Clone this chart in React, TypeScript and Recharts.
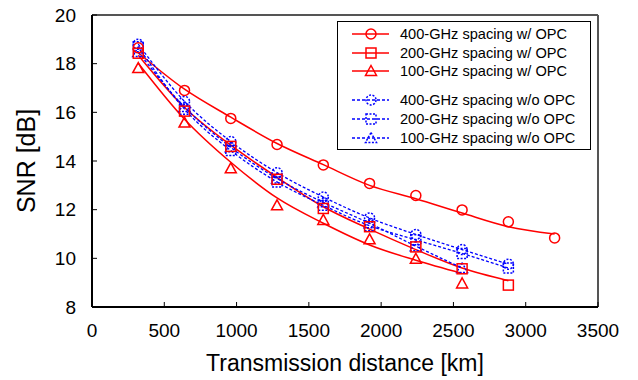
import React from "react";
import { ComposedChart, Line, XAxis, YAxis, ReferenceLine } from "recharts";

const distances = [320, 640, 960, 1280, 1600, 1920, 2240, 2560, 2880, 3200];
const xTicks = [0, 500, 1000, 1500, 2000, 2500, 3000, 3500];
const yTicks = [8, 10, 12, 14, 16, 18, 20];

// measured points
const opc400 = [18.65, 16.9, 15.75, 14.68, 13.84, 13.08, 12.58, 11.99, 11.5, 10.84];
const opc200 = [18.43, 16.05, 14.6, 13.25, 12.05, 11.3, 10.47, 9.57, 8.9];
const opc100 = [17.82, 15.58, 13.7, 12.18, 11.58, 10.78, 9.98, 8.97];
const noOpc400 = [18.8, 16.45, 14.8, 13.52, 12.52, 11.66, 10.98, 10.36, 9.76];
const noOpc200 = [18.7, 16.13, 14.43, 13.14, 12.18, 11.34, 10.76, 10.2, 9.6];
const noOpc100 = [18.48, 16.22, 14.56, 13.28, 12.3, 11.44, 10.5, 9.6];

// fitted trend curves of the w/ OPC series
const fit400 = [18.45, 16.95, 15.8, 14.72, 13.85, 13.0, 12.45, 11.86, 11.3, 11.0];
const fit200 = [18.35, 16.2, 14.65, 13.33, 12.12, 11.2, 10.36, 9.6, 9.08];
const fit100 = [18.02, 15.72, 13.95, 12.48, 11.44, 10.55, 9.92, 9.38];

const RED = "#ff0000";
const BLUE = "#0000ff";
const FONT = "'Liberation Sans', Arial, sans-serif";

const toPoints = (values: number[]) => values.map((y, i) => ({ x: distances[i], y }));

type Shape = "circle" | "square" | "triangle";

function Marker({ cx, cy, shape, color, dashed }: { cx: number; cy: number; shape: Shape; color: string; dashed?: boolean }) {
  const common = {
    fill: "none",
    stroke: color,
    strokeWidth: 1.5,
    strokeDasharray: dashed ? "2 1.5" : undefined,
  };
  if (shape === "circle") return <circle cx={cx} cy={cy} r={5} {...common} />;
  if (shape === "square") return <rect x={cx - 5} y={cy - 5} width={10} height={10} {...common} />;
  return <path d={`M${cx},${cy - 5.5} L${cx + 5.5},${cy + 4.5} L${cx - 5.5},${cy + 4.5} Z`} {...common} />;
}

const makeDot = (shape: Shape, color: string, dashed?: boolean) => (props: any) => {
  const { cx, cy, index } = props;
  return <Marker key={`${shape}-${color}-${index}`} cx={cx} cy={cy} shape={shape} color={color} dashed={dashed} />;
};

const legendItems: { label: string; shape: Shape; color: string; dashed: boolean }[] = [
  { label: "400-GHz spacing w/ OPC", shape: "circle", color: RED, dashed: false },
  { label: "200-GHz spacing w/ OPC", shape: "square", color: RED, dashed: false },
  { label: "100-GHz spacing w/ OPC", shape: "triangle", color: RED, dashed: false },
  { label: "400-GHz spacing w/o OPC", shape: "circle", color: BLUE, dashed: true },
  { label: "200-GHz spacing w/o OPC", shape: "square", color: BLUE, dashed: true },
  { label: "100-GHz spacing w/o OPC", shape: "triangle", color: BLUE, dashed: true },
];

function LegendBox() {
  return (
    <div
      style={{
        position: "absolute",
        left: 337,
        top: 21,
        width: 252,
        height: 127,
        border: "1.5px solid #000",
        background: "#fff",
        fontFamily: FONT,
        fontSize: 14.6,
        color: "#000",
      }}
    >
      {legendItems.map((item, i) => {
        const top = 3 + i * 18.6 + (i >= 3 ? 10.5 : 0);
        return (
          <div key={item.label} style={{ position: "absolute", left: 0, top, height: 18, width: "100%" }}>
            <svg width={56} height={18} style={{ position: "absolute", left: 0, top: 0 }}>
              <line
                x1={14}
                x2={51}
                y1={9}
                y2={9}
                stroke={item.color}
                strokeWidth={1.5}
                strokeDasharray={item.dashed ? "3 2" : undefined}
              />
              <Marker cx={33} cy={9} shape={item.shape} color={item.color} dashed={item.dashed} />
            </svg>
            <span style={{ position: "absolute", left: 62, top: 0, lineHeight: "18px", whiteSpace: "nowrap" }}>
              {item.label}
            </span>
          </div>
        );
      })}
    </div>
  );
}

export default function App() {
  return (
    <div style={{ position: "absolute", left: 0, top: 0, width: 638, height: 380, background: "#fff" }}>
      <ComposedChart width={638} height={380} margin={{ top: 15, right: 40, bottom: 13, left: 32 }}>
        <XAxis
          type="number"
          dataKey="x"
          domain={[0, 3500]}
          ticks={xTicks}
          allowDataOverflow
          height={60}
          tickSize={-5}
          tickMargin={22}
          axisLine={{ stroke: "#000", strokeWidth: 2 }}
          tickLine={{ stroke: "#000", strokeWidth: 1 }}
          tick={{ fill: "#000", fontSize: 19, fontFamily: FONT }}
          label={{
            content: () => (
              <text x={345} y={371} textAnchor="middle" fontSize={23} fontFamily={FONT} fill="#000">
                Transmission distance [km]
              </text>
            ),
          }}
        />
        <YAxis
          type="number"
          dataKey="y"
          domain={[8, 20]}
          ticks={yTicks}
          allowDataOverflow
          width={60}
          tickSize={-5}
          tickMargin={21}
          axisLine={{ stroke: "#000", strokeWidth: 2 }}
          tickLine={{ stroke: "#000", strokeWidth: 1 }}
          tick={{ fill: "#000", fontSize: 19, fontFamily: FONT }}
          label={{
            content: () => (
              <text
                x={28}
                y={161}
                textAnchor="middle"
                dominantBaseline="middle"
                fontSize={25}
                fontFamily={FONT}
                fill="#000"
                transform="rotate(-90 28 161)"
              >
                SNR [dB]
              </text>
            ),
          }}
        />
        <ReferenceLine y={20} stroke="#555" strokeWidth={2} />
        <ReferenceLine x={3500} stroke="#555" strokeWidth={2} />

        <Line data={toPoints(fit400)} dataKey="y" type="monotone" stroke={RED} strokeWidth={1.5} dot={false} isAnimationActive={false} />
        <Line data={toPoints(fit200)} dataKey="y" type="monotone" stroke={RED} strokeWidth={1.5} dot={false} isAnimationActive={false} />
        <Line data={toPoints(fit100)} dataKey="y" type="monotone" stroke={RED} strokeWidth={1.5} dot={false} isAnimationActive={false} />

        <Line data={toPoints(noOpc400)} dataKey="y" type="monotone" stroke={BLUE} strokeWidth={1.3} strokeDasharray="3 2" dot={makeDot("circle", BLUE, true)} isAnimationActive={false} />
        <Line data={toPoints(noOpc200)} dataKey="y" type="monotone" stroke={BLUE} strokeWidth={1.3} strokeDasharray="3 2" dot={makeDot("square", BLUE, true)} isAnimationActive={false} />
        <Line data={toPoints(noOpc100)} dataKey="y" type="monotone" stroke={BLUE} strokeWidth={1.3} strokeDasharray="3 2" dot={makeDot("triangle", BLUE, true)} isAnimationActive={false} />

        <Line data={toPoints(opc400)} dataKey="y" stroke="none" dot={makeDot("circle", RED)} isAnimationActive={false} />
        <Line data={toPoints(opc200)} dataKey="y" stroke="none" dot={makeDot("square", RED)} isAnimationActive={false} />
        <Line data={toPoints(opc100)} dataKey="y" stroke="none" dot={makeDot("triangle", RED)} isAnimationActive={false} />
      </ComposedChart>
      <LegendBox />
    </div>
  );
}
